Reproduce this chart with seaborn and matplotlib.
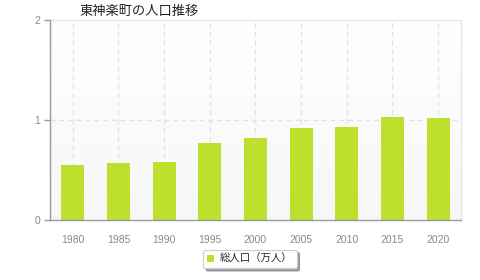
import numpy as np
import pandas as pd
import matplotlib
matplotlib.use("Agg")
import matplotlib.pyplot as plt
import seaborn as sns
from matplotlib.patches import Patch
from matplotlib.colors import LinearSegmentedColormap

years = ["1980", "1985", "1990", "1995", "2000", "2005", "2010", "2015", "2020"]
population = [0.55, 0.57, 0.58, 0.77, 0.82, 0.92, 0.93, 1.03, 1.02]
y_ticks = [0, 1, 2]
title = "東神楽町の人口推移"
series_name = "総人口（万人）"

sns.set_theme(style="white")
plt.rcParams['font.family'] = ['Noto Sans CJK JP', 'DejaVu Sans']

df = pd.DataFrame({"year": years, "pop": population})

fig = plt.figure(figsize=(4.8, 2.8), dpi=100)
ax = fig.add_axes([50/480, 60/280, 411/480, 200/280])

bar_color = "#bde02f"
sns.barplot(data=df, x="year", y="pop", color=bar_color, width=0.5,
            saturation=1, ax=ax, zorder=3, edgecolor="none")

# gradient background
grad = np.linspace(0, 1, 100).reshape(-1, 1)
cmap = LinearSegmentedColormap.from_list("bg", ["#f7f7f7", "#ffffff"])
ax.imshow(grad, extent=[0, 1, 0, 1], transform=ax.transAxes, cmap=cmap,
          aspect="auto", origin="lower", zorder=0)

ax.set_xlim(-0.5, len(years) - 0.5)
ax.set_ylim(0, 2)
ax.set_yticks(y_ticks)
ax.set_yticklabels([str(t) for t in y_ticks], family="Liberation Sans")
ax.set_xticks(range(len(years)))
ax.set_xticklabels(years, family="Liberation Sans")

# grid lines
for i in range(len(years)):
    ax.axvline(i, color="#e2e2e2", lw=0.9, ls=(0, (4, 3)), zorder=1)
ax.axhline(1, color="#e2e2e2", lw=0.9, ls=(0, (4, 3)), zorder=1)

ax.set_xlabel("")
ax.set_ylabel("")
for s in ["left", "bottom"]:
    ax.spines[s].set_color("#999999")
    ax.spines[s].set_linewidth(1.0)
    ax.spines[s].set_zorder(5)
for s in ["top", "right"]:
    ax.spines[s].set_color("#e6e6e6")
    ax.spines[s].set_linewidth(1.0)

ax.tick_params(axis="y", left=True, length=4, width=1, color="#999999",
               labelsize=7.5, labelcolor="#888888", pad=3)
ax.tick_params(axis="x", bottom=False, labelsize=7.5, labelcolor="#888888", pad=5)

fig.text(139/480, 1 - 11/280, title, ha="center", va="center", fontsize=9.5,
         color="#222222")

handles = [Patch(facecolor=bar_color, edgecolor="none", label=series_name)]
leg = fig.legend(handles=handles, loc="center", bbox_to_anchor=(250/480, 1 - 259/280),
                 frameon=True, fancybox=True, shadow=True, fontsize=7.5,
                 handlelength=0.6, handleheight=0.6, handletextpad=0.6,
                 borderpad=0.4, borderaxespad=0)
leg.get_frame().set_edgecolor("#cccccc")
leg.get_frame().set_linewidth(0.8)

fig.savefig("out.png", dpi=100)
